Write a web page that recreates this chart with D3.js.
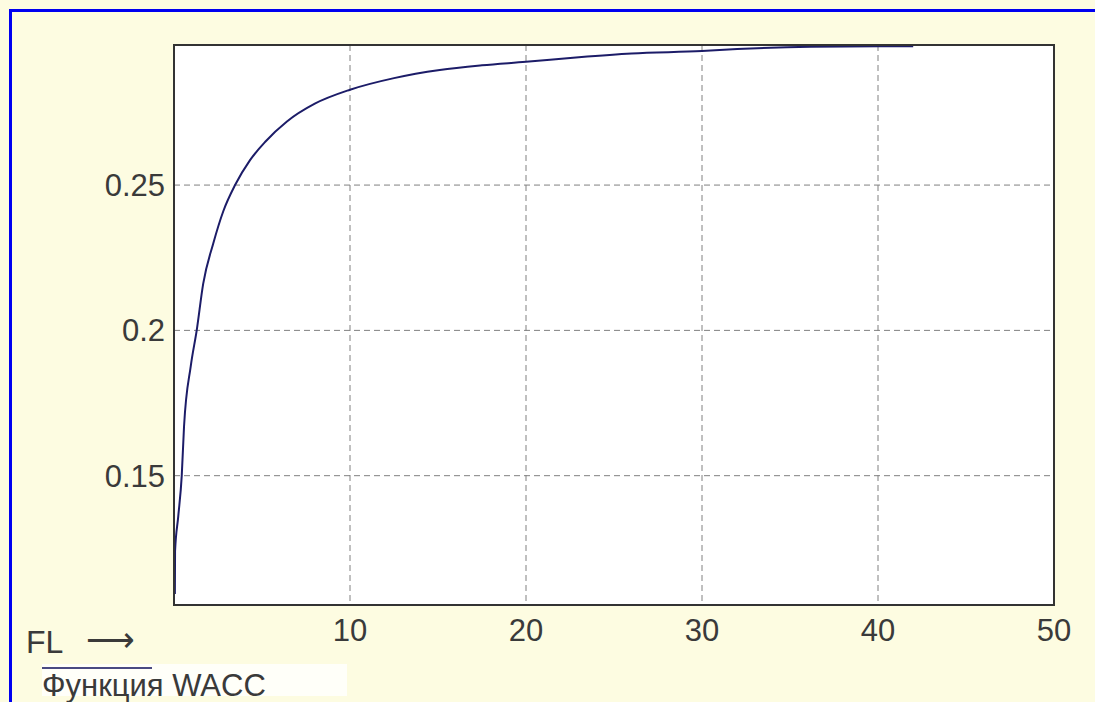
<!DOCTYPE html>
<html>
<head>
<meta charset="utf-8">
<script src="https://cdn.jsdelivr.net/npm/d3@7"></script>
<style>
  body { margin: 0; background: #fdfce1; }
  svg { display: block; }
  text { font-family: "Liberation Sans", Arial, sans-serif; fill: #3a3a3a; }
</style>
</head>
<body>
<script>
// values
let fl   = [0.05, 0.06, 0.24, 0.44, 0.57, 0.95, 1.29, 1.66, 2.23, 2.8, 3.47, 4.32, 5.2, 6.4, 8, 10, 12.5, 15.1, 17.5, 20, 23, 26, 30, 32, 36.2, 42];
let wacc = [0.1093, 0.124, 0.1359, 0.15, 0.1669, 0.1876, 0.2, 0.2161, 0.2299, 0.241, 0.25, 0.2586, 0.265, 0.2718, 0.278, 0.2828, 0.2868, 0.2896, 0.2912, 0.2924, 0.294, 0.2953, 0.2961, 0.2968, 0.2976, 0.2978];
let xTicks = [10, 20, 30, 40, 50];
let yTicks = [0.15, 0.2, 0.25];
let yLabels = ["0.15", "0.2", "0.25"];

let W = 1095, H = 702;
let plot = {left: 174, top: 45, right: 1054, bottom: 605};

let svg = d3.select("body").append("svg")
    .attr("width", W)
    .attr("height", H);

// background + blue frame (top and left only, the picture is cut on the other sides)
svg.append("rect").attr("width", W).attr("height", H).attr("fill", "#fdfce1");
svg.append("rect").attr("x", 9).attr("y", 9).attr("width", W - 9).attr("height", 3).attr("fill", "#0000f0");
svg.append("rect").attr("x", 9).attr("y", 9).attr("width", 3).attr("height", H - 9).attr("fill", "#0000f0");

let x = d3.scaleLinear().domain([0, 50]).range([plot.left, plot.right]);
let y = d3.scaleLinear().domain([0.1055, 0.2982]).range([plot.bottom, plot.top]);

svg.append("rect")
    .attr("x", plot.left).attr("y", plot.top)
    .attr("width", plot.right - plot.left)
    .attr("height", plot.bottom - plot.top)
    .attr("fill", "#fff");

// grid
svg.append("g").selectAll("line")
    .data(xTicks.filter(d => d < 50))
    .enter().append("line")
    .attr("x1", d => x(d)).attr("x2", d => x(d))
    .attr("y1", plot.top).attr("y2", plot.bottom)
    .style("stroke", "#808080")
    .style("stroke-dasharray", "6,4");

svg.append("g").selectAll("line")
    .data(yTicks)
    .enter().append("line")
    .attr("x1", plot.left).attr("x2", plot.right)
    .attr("y1", d => y(d)).attr("y2", d => y(d))
    .style("stroke", "#808080")
    .style("stroke-dasharray", "6,4");

// curve
let pts = fl.map((d, i) => [d, wacc[i]]);
let line = d3.line()
    .x(d => x(d[0]))
    .y(d => y(d[1]))
    .curve(d3.curveMonotoneX);

svg.append("path")
    .datum(pts)
    .attr("d", line)
    .attr("fill", "none")
    .style("stroke", "#1c1c68")
    .style("stroke-width", 2);

// frame
svg.append("rect")
    .attr("x", plot.left).attr("y", plot.top)
    .attr("width", plot.right - plot.left)
    .attr("height", plot.bottom - plot.top)
    .attr("fill", "none")
    .style("stroke", "#333")
    .style("stroke-width", 2);

// tick labels
svg.append("g").selectAll("text")
    .data(yTicks)
    .enter().append("text")
    .attr("x", 165)
    .attr("y", d => y(d) + 11)
    .attr("text-anchor", "end")
    .style("font-size", "31px")
    .text((d, i) => yLabels[i]);

svg.append("g").selectAll("text")
    .data(xTicks)
    .enter().append("text")
    .attr("x", d => x(d))
    .attr("y", 641)
    .attr("text-anchor", "middle")
    .style("font-size", "31px")
    .text(d => d);

// axis caption
svg.append("text")
    .attr("x", 26).attr("y", 653)
    .style("font-size", "32px")
    .text("FL");
svg.append("text")
    .attr("x", 86).attr("y", 651)
    .style("font-size", "34px")
    .text("\u27F6");

svg.append("rect")
    .attr("x", 42).attr("y", 664)
    .attr("width", 305).attr("height", 32)
    .attr("fill", "#fff")
    .attr("opacity", 0.8);
svg.append("line")
    .attr("x1", 42).attr("x2", 152)
    .attr("y1", 668).attr("y2", 668)
    .style("stroke", "#4a4a82")
    .style("stroke-width", 2);
svg.append("text")
    .attr("x", 42).attr("y", 696)
    .style("font-size", "31px")
    .text("Функция WACC");
</script>
</body>
</html>
